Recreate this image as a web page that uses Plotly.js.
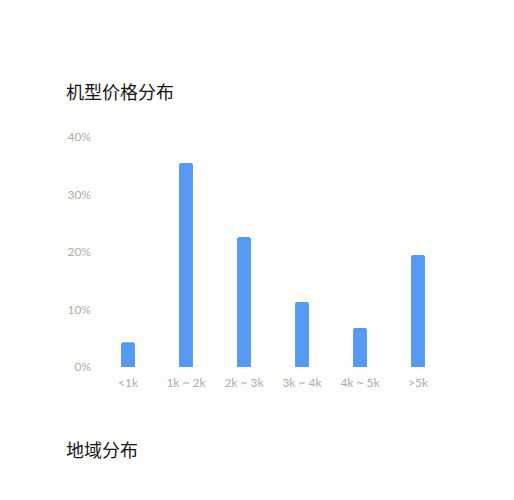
<!DOCTYPE html>
<html><head><meta charset="utf-8">
<script src="https://cdn.plot.ly/plotly-3.0.1.min.js"></script>
<style>html,body{margin:0;padding:0;background:#fdfdfb;}#c{width:514px;height:500px;}</style>
</head><body><div id="c"></div>
<script>
const categories = ['<1k', '1k ~ 2k', '2k ~ 3k', '3k ~ 4k', '4k ~ 5k', '>5k'];
const shares = [4.3, 35.5, 22.6, 11.3, 6.8, 19.5];
const yTicks = [0, 10, 20, 30, 40];
const yTickLabels = ['0%', '10%', '20%', '30%', '40%'];
const chartTitle = '机型价格分布';
const nextTitle = '地域分布';

const fontFam = 'Lato, "Noto Sans CJK SC", sans-serif';
Plotly.newPlot('c', [{
  type: 'bar', x: categories, y: shares,
  marker: {color: '#5599f0', cornerradius: 2},
  hoverinfo: 'none'
}], {
  width: 514, height: 500,
  paper_bgcolor: '#fdfdfb', plot_bgcolor: '#fdfdfb',
  margin: {l: 99, r: 67, t: 137, b: 133},
  bargap: 0.76,
  showlegend: false,
  title: {text: chartTitle, xref: 'container', yref: 'container', x: 66/514, xanchor: 'left', y: 1 - 93/500, yanchor: 'middle',
    font: {family: '"Noto Sans CJK SC", sans-serif', size: 18, color: '#161616'}},
  annotations: [{text: nextTitle, xref: 'paper', yref: 'paper', x: (64-99)/348, xanchor: 'left',
    y: -(449-367)/230, yanchor: 'middle', showarrow: false,
    font: {family: '"Noto Sans CJK SC", sans-serif', size: 18, color: '#161616'}}],
  xaxis: {type: 'category', range: [-0.5, 5.5], showgrid: false, zeroline: false, showline: false, ticks: '',
    ticklabelstandoff: 7,
    tickfont: {family: fontFam, size: 12, color: '#adadad'}, fixedrange: true},
  yaxis: {range: [0, 40], tickvals: yTicks, ticktext: yTickLabels, showgrid: false, zeroline: false, showline: false, ticks: '',
    ticklabelstandoff: 7,
    tickfont: {family: fontFam, size: 12, color: '#adadad'}, fixedrange: true}
}, {displayModeBar: false, staticPlot: true});
</script></body></html>
